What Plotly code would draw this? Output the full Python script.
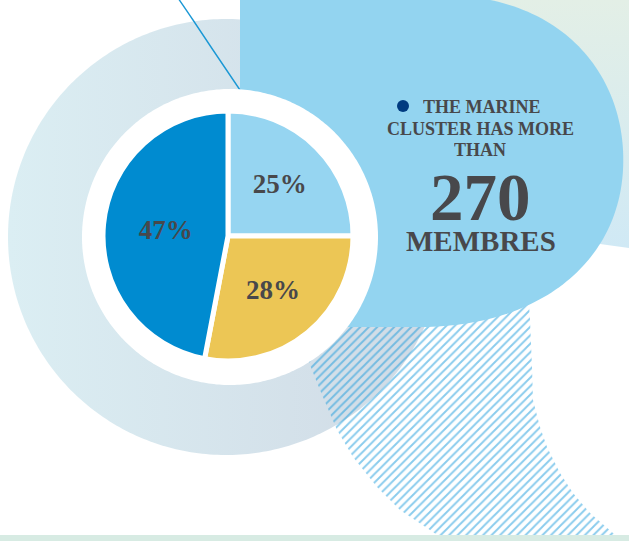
import numpy as np
import plotly.graph_objects as go

# ---------------- data ----------------
categories = ["Group A", "Group B", "Group C"]
shares = [25, 28, 47]
slice_colors = ["#96d5f1", "#ecc655", "#008bd0"]
headline_lines = ["THE MARINE", "CLUSTER HAS MORE", "THAN"]
member_count = "270"
member_label = "MEMBRES"

W, H = 629, 541
TEXT = "#48484b"
SERIF = "Liberation Serif, serif"


def circle(cx, cy, r, n=360):
    t = np.linspace(0, 2 * np.pi, n)
    return cx + r * np.cos(t), cy + r * np.sin(t)


def bez(p0, p1, p2, p3, n=60):
    t = np.linspace(0, 1, n)[:, None]
    P = ((1 - t) ** 3) * np.array(p0) + 3 * ((1 - t) ** 2) * t * np.array(p1) \
        + 3 * (1 - t) * t ** 2 * np.array(p2) + t ** 3 * np.array(p3)
    return list(P[:, 0]), list(P[:, 1])


fig = go.Figure()

# top-right pale background
bgx = [430, 629, 629, 600, 560, 430]
bgy = [0, 0, 248, 244, 235, 0]
fig.add_trace(go.Scatter(x=bgx, y=bgy, mode="none", fill="toself",
                         fillgradient=dict(type="vertical", start=0, stop=248,
                                           colorscale=[[0, "#e3efe6"], [1, "#d0e9f5"]]),
                         hoverinfo="skip", showlegend=False))

# big outer ring (disk, gradient)
rx, ry = circle(226, 237, 218)
fig.add_trace(go.Scatter(x=rx, y=ry, mode="none", fill="toself",
                         fillgradient=dict(type="horizontal", start=8, stop=444,
                                           colorscale=[[0, "#dbeef3"], [1, "#d0dae5"]]),
                         hoverinfo="skip", showlegend=False))

# hatched band
hx = [300, 308, 320, 337, 353, 377, 400, 430, 446, 622, 613, 590, 573, 560, 547, 540, 533, 532, 530, 528]
hy = [290, 360, 390, 430, 457, 487, 510, 530, 541, 541, 533, 513, 493, 473, 447, 427, 400, 367, 320, 290]
fig.add_trace(go.Scatter(x=hx, y=hy, mode="none", fill="toself",
                         fillcolor="rgba(0,0,0,0)",
                         fillpattern=dict(shape="/", fgcolor="#1699db", bgcolor="rgba(0,0,0,0)",
                                          size=6, solidity=0.32),
                         hoverinfo="skip", showlegend=False))

# speech bubble
bx, by = [240, 440], [-5, -5]
cx1, cy1 = bez((440, -5), (565, -5), (628, 78), (623, 170))
cx2, cy2 = bez((623, 170), (618, 262), (540, 327), (420, 327))
bx += cx1 + cx2 + [240, 240]
by += cy1 + cy2 + [327, -5]
fig.add_trace(go.Scatter(x=bx, y=by, mode="none", fill="toself", fillcolor="#93d4f0",
                         hoverinfo="skip", showlegend=False))

# thin blue line
fig.add_trace(go.Scatter(x=[178, 193, 213, 240], y=[-2, 20, 50, 90], mode="lines",
                         line=dict(color="#1b98d5", width=1.4, shape="spline"),
                         hoverinfo="skip", showlegend=False))

# white disk behind pie
wx, wy = circle(230, 237, 148)
fig.add_trace(go.Scatter(x=wx, y=wy, mode="none", fill="toself", fillcolor="#ffffff",
                         hoverinfo="skip", showlegend=False))

# navy bullet
fig.add_trace(go.Scatter(x=[403], y=[106], mode="markers",
                         marker=dict(size=12, color="#003b80"),
                         hoverinfo="skip", showlegend=False))

# pie
pcx, pcy, pr = 228, 236, 125
fig.add_trace(go.Pie(
    labels=categories, values=shares, sort=False, direction="clockwise", rotation=0,
    marker=dict(colors=slice_colors, line=dict(color="#ffffff", width=5)),
    texttemplate="%{value}%", textposition="inside", insidetextorientation="horizontal",
    textfont=dict(family=SERIF, size=27, color=TEXT, weight="bold"),
    domain=dict(x=[(pcx - pr) / W, (pcx + pr) / W],
                y=[(H - pcy - pr) / H, (H - pcy + pr) / H]),
    hoverinfo="skip", showlegend=False))

# headline text
line_y = [107, 129, 150]
line_x = [482, 480, 480]
for t, xx, yy in zip(headline_lines, line_x, line_y):
    fig.add_annotation(x=xx, y=yy, xref="x", yref="y", text=f"<b>{t}</b>", showarrow=False,
                       font=dict(family=SERIF, size=18, color=TEXT), xanchor="center", yanchor="middle",
                       height=18, valign="middle")
fig.add_annotation(x=480, y=197, xref="x", yref="y", text=f"<b>{member_count}</b>", showarrow=False,
                   font=dict(family=SERIF, size=67, color=TEXT), xanchor="center", yanchor="middle",
                   height=50, valign="middle")
fig.add_annotation(x=481, y=241, xref="x", yref="y", text=f"<b>{member_label}</b>", showarrow=False,
                   font=dict(family=SERIF, size=29, color=TEXT), xanchor="center", yanchor="middle",
                   height=26, valign="middle")

# bottom strip
fig.add_shape(type="rect", xref="x", yref="y", x0=0, x1=W, y0=535, y1=H + 2,
              fillcolor="#d7ebe3", line=dict(width=0), layer="above")

fig.update_layout(
    width=W, height=H, margin=dict(l=0, r=0, t=0, b=0),
    paper_bgcolor="#ffffff", plot_bgcolor="#ffffff",
    xaxis=dict(range=[0, W], visible=False, fixedrange=True),
    yaxis=dict(range=[H, 0], visible=False, fixedrange=True),
    showlegend=False,
)

fig.write_html("out.html", config={"displayModeBar": False},
               post_script="document.body.style.margin='0';document.body.style.overflow='hidden';")
